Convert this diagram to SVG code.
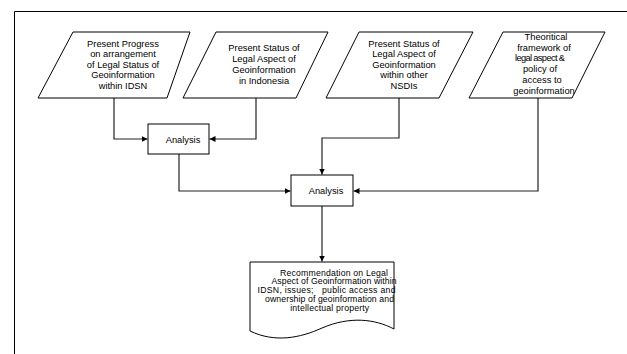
<svg xmlns="http://www.w3.org/2000/svg" width="627" height="354" viewBox="0 0 627 354">
<style>
.shape{fill:#fff;stroke:#000;stroke-width:1}
.t{font-family:"Liberation Sans",Arial,sans-serif;font-size:9.3px;fill:#000;text-anchor:middle}
.d{font-size:8.7px}
.c{fill:none;stroke:#222;stroke-width:1.2}
</style>
<defs>
<marker id="ah" markerUnits="userSpaceOnUse" markerWidth="7" markerHeight="7" refX="6" refY="3" orient="auto">
<path d="M0,0 L6,3 L0,6 z" fill="#000"/>
</marker>
</defs>
<rect width="627" height="354" fill="#fff"/>
<path d="M14.5,354 V11.5 H627" fill="none" stroke="#000" stroke-width="1"/>
<g id="connectors">
<path class="c" d="M114,98 V139 H147.5" marker-end="url(#ah)"/>
<path class="c" d="M256,98 V139 H209.5" marker-end="url(#ah)"/>
<path class="c" d="M179,154 V191 H290.5" marker-end="url(#ah)"/>
<path class="c" d="M399,98 V138 H322 V174.5" marker-end="url(#ah)"/>
<path class="c" d="M538,98 V191 H353.5" marker-end="url(#ah)"/>
<path class="c" d="M322,206 V261.5" marker-end="url(#ah)"/>
</g>
<g id="p1">
<polygon class="shape" points="73,32 190,32 167,98 38,98"/>
<text class="t" x="123" y="46.5">Present Progress</text>
<text class="t" x="123" y="57">on arrangement</text>
<text class="t" x="123" y="67.5">of Legal Status of</text>
<text class="t" x="123" y="78">Geoinformation</text>
<text class="t" x="123" y="88.5">within IDSN</text>
</g>
<g id="p2">
<polygon class="shape" points="216,32 328,32 296,98 183,98"/>
<text class="t" x="264" y="51">Present Status of</text>
<text class="t" x="264" y="62">Legal Aspect of</text>
<text class="t" x="264" y="73">Geoinformation</text>
<text class="t" x="264" y="84">in Indonesia</text>
</g>
<g id="p3">
<polygon class="shape" points="359,32 473,32 439,98 326,98"/>
<text class="t" x="404" y="46.5">Present Status of</text>
<text class="t" x="404" y="57">Legal Aspect of</text>
<text class="t" x="404" y="67.5">Geoinformation</text>
<text class="t" x="404" y="78">within other</text>
<text class="t" x="404" y="88.5">NSDIs</text>
</g>
<g id="p4">
<polygon class="shape" points="503,32 605,32 572,98 469,98"/>
<text class="t" x="546" y="39.5">Theoritical</text>
<text class="t" x="544" y="50.5">framework of</text>
<text class="t" x="540" y="61" textLength="50" lengthAdjust="spacing">legal aspect &amp;</text>
<text class="t" x="540" y="72">policy of</text>
<text class="t" x="542" y="83">access to</text>
<text class="t" x="544" y="94">geoinformation</text>
</g>
<g id="a1">
<rect class="shape" x="148" y="124" width="61" height="30"/>
<text class="t" x="183" y="142.5">Analysis</text>
</g>
<g id="a2">
<rect class="shape" x="291" y="175" width="62" height="31"/>
<text class="t" x="326" y="193.5">Analysis</text>
</g>
<g id="doc">
<path class="shape" d="M250,262 H394 V329 C375,319 350,316 322,328 C300,338 275,343 250,331 Z"/>
<text class="t d" x="334" y="275.5" textLength="108" lengthAdjust="spacing">Recommendation on Legal</text>
<text class="t d" x="334" y="284.3" textLength="125" lengthAdjust="spacing">Aspect of Geoinformation within</text>
<text class="t d" x="326.5" y="293.1" xml:space="preserve" style="white-space:pre" textLength="138" lengthAdjust="spacing">IDSN, issues;   public access and</text>
<text class="t d" x="329.5" y="301.9" textLength="129" lengthAdjust="spacing">ownership of geoinformation and</text>
<text class="t d" x="329.7" y="310.7" textLength="79" lengthAdjust="spacing">intellectual property</text>
</g>
</svg>
